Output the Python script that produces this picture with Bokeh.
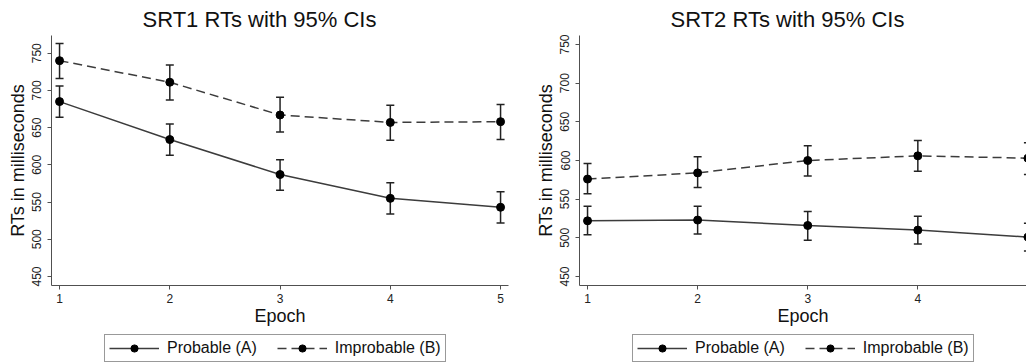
from bokeh.plotting import figure
from bokeh.layouts import row, column
from bokeh.models import ColumnDataSource, Whisker, TeeHead, FixedTicker, Legend, LegendItem, Range1d
from bokeh.embed import file_html
from bokeh.resources import INLINE

epochs = [1, 2, 3, 4, 5]

srt1_prob = [685, 634, 587, 555, 543]
srt1_prob_lo = [664, 613, 566, 534, 522]
srt1_prob_hi = [706, 655, 607, 576, 564]
srt1_impr = [740, 711, 667, 657, 658]
srt1_impr_lo = [716, 687, 644, 633, 634]
srt1_impr_hi = [763, 734, 691, 680, 681]

srt2_prob = [522, 523, 516, 510, 501]
srt2_prob_lo = [504, 505, 497, 492, 483]
srt2_prob_hi = [541, 541, 534, 528, 519]
srt2_impr = [576, 584, 600, 606, 603]
srt2_impr_lo = [557, 565, 580, 586, 582]
srt2_impr_hi = [596, 605, 619, 626, 623]

y_ticks = [450, 500, 550, 600, 650, 700, 750]
titles = ["SRT1 RTs with 95% CIs", "SRT2 RTs with 95% CIs"]
series_names = ["Probable (A)", "Improbable (B)"]
x_label = "Epoch"
y_label = "RTs in milliseconds"

FONT = "Liberation Sans"
LINE_C = "#3c3c3c"
AXIS_C = "#505050"
DASH = "9 5"


def make_panel(title, prob, plo, phi, impr, ilo, ihi, width, xr, yr, border_right):
    p = figure(width=width, height=333, output_backend="svg", toolbar_location=None,
               x_range=Range1d(*xr), y_range=Range1d(*yr),
               min_border_left=51, min_border_right=border_right,
               min_border_top=35, min_border_bottom=48)
    p.title.text = title
    p.title.align = "left"
    p.title.offset = 91
    p.title.standoff = 7
    p.title.text_font = FONT
    p.title.text_font_size = "22px"
    p.title.text_font_style = "normal"
    p.title.text_color = "#111111"
    p.outline_line_color = None
    p.xgrid.visible = False
    p.ygrid.visible = False
    p.background_fill_color = "white"
    p.border_fill_color = "white"

    src_a = ColumnDataSource(dict(x=epochs, y=prob, lo=plo, hi=phi))
    src_b = ColumnDataSource(dict(x=epochs, y=impr, lo=ilo, hi=ihi))

    p.line("x", "y", source=src_a, line_color=LINE_C, line_width=1.5)
    p.line("x", "y", source=src_b, line_color=LINE_C, line_width=1.5, line_dash=DASH)
    for src in (src_a, src_b):
        w = Whisker(source=src, base="x", lower="lo", upper="hi",
                    line_color="#222222", line_width=1.5,
                    lower_head=TeeHead(size=8, line_color="#222222", line_width=1.5),
                    upper_head=TeeHead(size=8, line_color="#222222", line_width=1.5))
        p.add_layout(w)
    p.scatter("x", "y", source=src_a, size=8, fill_color="black", line_color="black")
    p.scatter("x", "y", source=src_b, size=8, fill_color="black", line_color="black")

    for ax in (p.xaxis[0], p.yaxis[0]):
        ax.axis_line_color = AXIS_C
        ax.major_tick_line_color = AXIS_C
        ax.minor_tick_line_color = None
        ax.major_tick_out = 4
        ax.major_tick_in = 0
        ax.major_label_text_font = FONT
        ax.major_label_text_font_size = "12px"
        ax.major_label_text_color = "#222222"
        ax.axis_label_text_font = FONT
        ax.axis_label_text_font_size = "18px"
        ax.axis_label_text_font_style = "normal"
        ax.axis_label_text_color = "#111111"

    p.xaxis.ticker = FixedTicker(ticks=epochs)
    p.xaxis.axis_label = x_label
    p.xaxis.major_label_standoff = 4
    p.xaxis.axis_label_standoff = 0
    p.yaxis.ticker = FixedTicker(ticks=y_ticks)
    p.yaxis.axis_label = y_label
    p.yaxis.major_label_orientation = "parallel"
    p.yaxis.major_label_standoff = 6
    p.yaxis.axis_label_standoff = 2
    return p


def make_legend_fig(width, left):
    f = figure(width=width, height=30, output_backend="svg", toolbar_location=None,
               x_range=Range1d(0, 1), y_range=Range1d(0, 1),
               x_axis_type=None, y_axis_type=None,
               min_border_left=0, min_border_right=0, min_border_top=0, min_border_bottom=0)
    f.outline_line_color = None
    f.xgrid.visible = False
    f.ygrid.visible = False
    # key renderers hold one point outside the visible range so only their legend glyphs show
    hidden = ColumnDataSource(dict(x=[-5, -4], y=[-5, -5]))
    la = f.line("x", "y", source=hidden, line_color=LINE_C, line_width=1.5)
    sa = f.scatter("x", "y", source=hidden, size=8, fill_color="black", line_color="black")
    lb = f.line("x", "y", source=hidden, line_color=LINE_C, line_width=1.5, line_dash=DASH)
    sb = f.scatter("x", "y", source=hidden, size=8, fill_color="black", line_color="black")
    legend = Legend(items=[LegendItem(label=series_names[0], renderers=[la, sa]),
                           LegendItem(label=series_names[1], renderers=[lb, sb])],
                    orientation="horizontal", location=(left, 1),
                    label_text_font=FONT, label_text_font_size="16px",
                    label_text_color="#111111",
                    glyph_width=50, glyph_height=18, label_height=18,
                    label_standoff=8, spacing=20, padding=4, margin=0,
                    border_line_color="#333333", border_line_width=1,
                    background_fill_color="white")
    f.add_layout(legend, "center")
    return f


p1 = make_panel(titles[0], srt1_prob, srt1_prob_lo, srt1_prob_hi,
                srt1_impr, srt1_impr_lo, srt1_impr_hi,
                528, (0.927, 5.072), (437.9, 773.8), 20)
p2 = make_panel(titles[1], srt2_prob, srt2_prob_lo, srt2_prob_hi,
                srt2_impr, srt2_impr_lo, srt2_impr_hi,
                498, (0.927, 4.987), (438.4, 761.6), 0)
lf1 = make_legend_fig(528, 104)
lf2 = make_legend_fig(498, 104)

layout = column(row(p1, p2), row(lf1, lf2))
open("out.html", "w").write(file_html(layout, INLINE))
